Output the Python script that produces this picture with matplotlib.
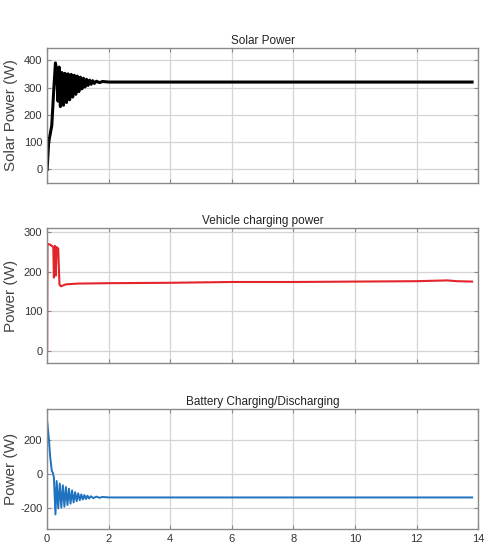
import matplotlib
matplotlib.use('Agg')
import matplotlib.pyplot as plt
import numpy as np

plt.rcParams['font.family'] = ['Liberation Sans Narrow', 'Liberation Sans', 'DejaVu Sans']
plt.rcParams['axes.unicode_minus'] = False

# solar panel output (W) vs time (s): start-up swing, then steady
solar_t = [0, 0.05, 0.15, 0.22, 0.27, 0.31, 0.35, 0.39, 0.43, 0.48, 0.53, 0.58, 0.63,
           0.68, 0.73, 0.78, 0.83, 0.88, 0.93, 0.98, 1.03, 1.08, 1.13, 1.18, 1.23, 1.28,
           1.33, 1.38, 1.43, 1.48, 1.53, 1.60, 1.70, 1.80, 2.0, 4.0, 6.0, 8.0, 10.0, 12.0, 13.8]
solar_p = [0, 100, 160, 300, 390, 360, 250, 375, 230, 355, 235, 352, 245,
           350, 255, 348, 265, 345, 275, 342, 285, 338, 295, 334, 302, 330,
           308, 327, 312, 325, 315, 323, 318, 322, 320, 320, 320, 320, 320, 320, 320]

# vehicle charging power (W)
ev_t = [0, 0.01, 0.10, 0.20, 0.22, 0.25, 0.28, 0.31, 0.36, 0.40, 0.45, 0.60,
        1.0, 2.0, 4.0, 6.0, 8.0, 10.0, 12.0, 13.0, 13.3, 13.8]
ev_p = [0, 270, 268, 262, 185, 265, 190, 262, 258, 168, 163, 168,
        170, 171, 172, 174, 174, 175, 176, 178, 176, 175]

# battery charging(+)/discharging(-) power (W)
bat_t = [0, 0.05, 0.10, 0.15, 0.18, 0.22, 0.27, 0.31, 0.36, 0.41, 0.46, 0.51, 0.56,
         0.61, 0.66, 0.71, 0.76, 0.81, 0.86, 0.91, 0.96, 1.01, 1.06, 1.11, 1.16, 1.21,
         1.26, 1.31, 1.36, 1.42, 1.50, 1.60, 1.70, 1.80, 2.0, 4.0, 6.0, 8.0, 10.0, 12.0, 13.8]
bat_p = [310, 220, 100, 20, 10, -20, -235, -40, -200, -55, -195, -65, -190,
         -75, -180, -85, -172, -95, -165, -105, -158, -112, -152, -118, -148, -122,
         -145, -126, -142, -129, -140, -131, -138, -133, -136, -136, -136, -136, -136, -136, -136]

xticks = [0, 2, 4, 6, 8, 10, 12, 14]

fig = plt.figure(figsize=(4.91, 5.57), dpi=100)
boxes = [[0.096, 0.6715, 0.878, 0.2424],
         [0.096, 0.3483, 0.878, 0.2424],
         [0.096, 0.0503, 0.878, 0.2154]]
series = [(solar_t, solar_p, 'black', 2.2, 'Solar Power', 'Solar Power (W)', (-50, 445), [0, 100, 200, 300, 400]),
          (ev_t, ev_p, '#e3242b', 1.5, 'Vehicle charging power', 'Power (W)', (-30, 310), [0, 100, 200, 300]),
          (bat_t, bat_p, '#1f72c0', 1.4, 'Battery Charging/Discharging', 'Power (W)', (-320, 380), [-200, 0, 200])]

for i, (box, s) in enumerate(zip(boxes, series)):
    t, p, col, lw, title, ylab, ylim, yt = s
    ax = fig.add_axes(box)
    ax.plot(t, p, color=col, lw=lw)
    ax.set_xlim(0, 14)
    ax.set_ylim(*ylim)
    ax.set_xticks(xticks)
    ax.set_yticks(yt)
    ax.grid(True, color='#d4d4d4', lw=0.9)
    ax.set_axisbelow(True)
    for sp in ax.spines.values():
        sp.set_color('#8a8a8a')
        sp.set_linewidth(1.0)
    ax.tick_params(direction='in', top=True, right=True, length=3, color='#8a8a8a',
                   labelsize=8, labelcolor='#333333')
    if i < 2:
        ax.set_xticklabels([])
    ax.set_title(title, fontsize=8.5, pad=3, color='#222222')
    ax.set_ylabel(ylab, fontsize=11, color='#444444', family=['Liberation Sans', 'DejaVu Sans'], labelpad=2)
    ax.yaxis.set_label_coords(-0.068, 0.5)

fig.savefig('out.png', dpi=100)
